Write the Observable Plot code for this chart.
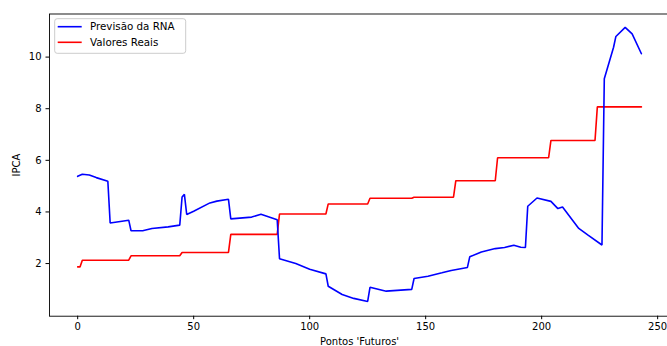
<!DOCTYPE html>
<html><head><meta charset="utf-8">
<script src="https://cdn.jsdelivr.net/npm/d3@7"></script>
<script src="https://cdn.jsdelivr.net/npm/@observablehq/plot@0.6"></script>
<style>
html,body{margin:0;padding:0;background:#fff;}
#wrap{position:relative;width:667px;height:346px;overflow:hidden;font-family:"DejaVu Sans",sans-serif;}
#wrap svg{display:block;}
#legend{position:absolute;left:0;top:0;pointer-events:none;}
</style></head><body><div id="wrap"></div>
<script>
// Series 1: "Previsão da RNA" (blue)
const blueX = [0,1,2,5,8,13,14,22,23,28,32,39,44,45,46,47,50,57,60,65,66,75,79,86,87,94,100,107,108,114,119,125,126,133,144,145,151,157,161,168,169,174,180,184,188,191,193,194,198,204,207,209,216,220,226,227,231,232,236,239,243];
const blueY = [5.38,5.42,5.46,5.43,5.33,5.19,3.57,3.68,3.27,3.27,3.36,3.42,3.49,4.58,4.68,3.90,4.03,4.35,4.42,4.49,3.73,3.80,3.91,3.70,2.19,2.00,1.78,1.60,1.12,0.80,0.65,0.53,1.08,0.93,1.00,1.42,1.51,1.64,1.73,1.85,2.26,2.45,2.58,2.62,2.71,2.63,2.62,4.22,4.54,4.41,4.13,4.19,3.36,3.10,2.72,9.16,10.38,10.80,11.15,10.90,10.13];
// Series 2: "Valores Reais" (red)
const redX = [0,1,2,22,23,44,45,65,66,86,87,107,108,125,126,144,145,162,163,180,181,203,204,223,224,243];
const redY = [1.87,1.87,2.13,2.13,2.30,2.30,2.43,2.43,3.13,3.13,3.92,3.92,4.31,4.31,4.53,4.53,4.57,4.57,5.21,5.21,6.10,6.10,6.77,6.77,8.07,8.07];

const seriesNames = ["Previsão da RNA", "Valores Reais"];
const seriesColors = ["#0000ff", "#ff0000"];
const xTicks = [0, 50, 100, 150, 200, 250];
const yTicks = [2, 4, 6, 8, 10];
const xLabel = "Pontos 'Futuros'";
const yLabel = "IPCA";

const blueData = blueX.map((x, i) => ({x, y: blueY[i]}));
const redData = redX.map((x, i) => ({x, y: redY[i]}));

const W = 667, H = 346;
const chart = Plot.plot({
  width: W, height: H,
  marginLeft: 49, marginRight: -2.1, marginTop: 13.5, marginBottom: 30.3,
  style: {fontFamily: '"DejaVu Sans", sans-serif', fontSize: "10px", color: "#000", background: "#fff", overflow: "hidden"},
  x: {domain: [-12.15, 255.15]},
  y: {domain: [-0.04, 11.67]},
  marks: [
    Plot.axisX({ticks: xTicks, tickSize: 3.5, tickPadding: 3.5, tickFormat: d => String(d), label: xLabel, labelAnchor: "center", labelOffset: 28.5, labelArrow: "none", stroke: "#000", fill: "#000"}),
    Plot.axisY({ticks: yTicks, tickSize: 3.5, tickPadding: 4.5, tickFormat: d => String(d), label: yLabel, labelAnchor: "center", labelOffset: 37, labelArrow: "none", stroke: "#000", fill: "#000"}),
    Plot.line(redData, {x: "x", y: "y", stroke: seriesColors[1], strokeWidth: 1.6, strokeLinejoin: "miter"}),
    Plot.line(blueData, {x: "x", y: "y", stroke: seriesColors[0], strokeWidth: 1.6, strokeLinejoin: "miter"}),
    Plot.frame({stroke: "#000", strokeWidth: 0.9})
  ]
});
const wrap = document.getElementById("wrap");
wrap.appendChild(chart);

// Legend overlay (matplotlib style)
const ns = "http://www.w3.org/2000/svg";
const leg = document.createElementNS(ns, "svg");
leg.setAttribute("id", "legend");
leg.setAttribute("width", W); leg.setAttribute("height", H);
const box = document.createElementNS(ns, "rect");
box.setAttribute("x", 54.7); box.setAttribute("y", 18.7);
box.setAttribute("width", 131); box.setAttribute("height", 34.6);
box.setAttribute("rx", 2.5);
box.setAttribute("fill", "rgba(255,255,255,0.8)");
box.setAttribute("stroke", "#cccccc"); box.setAttribute("stroke-width", 1);
leg.appendChild(box);
seriesNames.forEach((name, i) => {
  const cy = 26.7 + i * 15.6;
  const ln = document.createElementNS(ns, "line");
  ln.setAttribute("x1", 57.7); ln.setAttribute("x2", 81.7);
  ln.setAttribute("y1", cy); ln.setAttribute("y2", cy);
  ln.setAttribute("stroke", seriesColors[i]); ln.setAttribute("stroke-width", 1.6);
  leg.appendChild(ln);
  const t = document.createElementNS(ns, "text");
  t.setAttribute("x", 90); t.setAttribute("y", cy);
  t.setAttribute("dy", "0.35em");
  t.setAttribute("font-family", '"DejaVu Sans", sans-serif');
  t.setAttribute("font-size", "10.3px");
  t.setAttribute("fill", "#000");
  t.textContent = name;
  leg.appendChild(t);
});
wrap.appendChild(leg);
</script>
</body></html>
